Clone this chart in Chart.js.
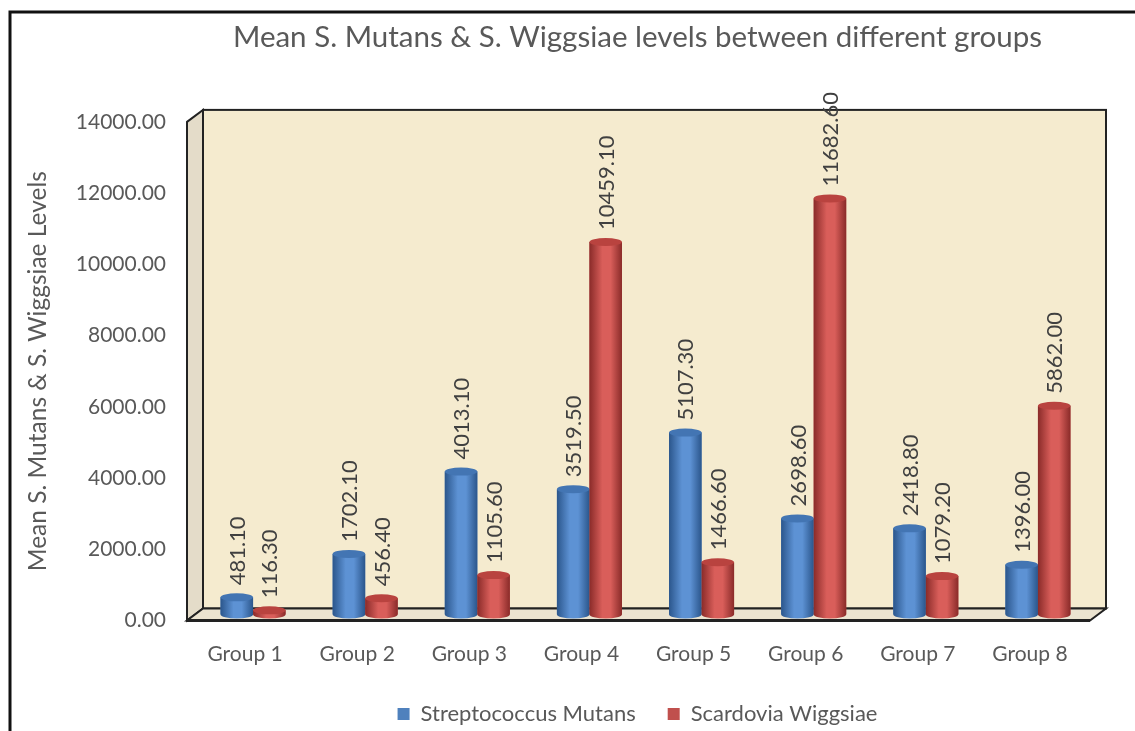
<!DOCTYPE html>
<html lang="en">
<head>
<meta charset="UTF-8">
<title>Mean S. Mutans &amp; S. Wiggsiae levels</title>
<script src="https://cdn.jsdelivr.net/npm/chart.js"></script>
<style>
  html, body { margin: 0; padding: 0; background: #fff; overflow: hidden; }
  .wrap { width: 1275px; height: 731px; }
</style>
</head>
<body>
<div class="wrap">
  <canvas id="levelsChart" width="1275" height="731"></canvas>
</div>
<script>
const groups = ['Group 1', 'Group 2', 'Group 3', 'Group 4', 'Group 5', 'Group 6', 'Group 7', 'Group 8'];
const mutans = [481.10, 1702.10, 4013.10, 3519.50, 5107.30, 2698.60, 2418.80, 1396.00];
const wiggsiae = [116.30, 456.40, 1105.60, 10459.10, 1466.60, 11682.60, 1079.20, 5862.00];
const seriesNames = ['Streptococcus Mutans', 'Scardovia Wiggsiae'];
const yMin = 0, yMax = 14000, yStep = 2000;

const FONT = 'Lato, "Open Sans", sans-serif';
const GREY = '#595959';
const depth = { x: 16, y: -12 };   // 3d offset of the back wall

// shading for the cylinders: dark edge / light middle / top cap
const shades = [
  { base: '#4f81bd', edge: '#2b568c', mid: '#5d92d4', cap: '#4375b3' },
  { base: '#c0504d', edge: '#8a2b29', mid: '#d95e5a', cap: '#b9433f' }
];

const frame3d = {
  id: 'frame3d',
  beforeDraw(chart) {
    const c = chart.ctx, a = chart.chartArea;
    const fl = a.left - 2, fr = a.right + 4, top = a.top, bot = a.bottom;
    const dx = depth.x, dy = depth.y;
    c.save();
    c.fillStyle = '#fff';
    c.fillRect(0, 0, chart.width, chart.height);

    // outer frame of the picture
    c.strokeStyle = '#111';
    c.lineWidth = 3;
    c.beginPath();
    c.moveTo(10, chart.height);
    c.lineTo(10, 12);
    c.lineTo(chart.width, 12);
    c.stroke();

    // back wall
    c.fillStyle = '#f5ebcf';
    c.fillRect(fl + dx, top + dy, fr - fl, bot - top);
    c.lineWidth = 2;
    c.strokeStyle = '#222';
    c.strokeRect(fl + dx, top + dy, fr - fl, bot - top);

    // side wall
    c.fillStyle = '#e4dcc9';
    c.beginPath();
    c.moveTo(fl, top);
    c.lineTo(fl + dx, top + dy);
    c.lineTo(fl + dx, bot + dy);
    c.lineTo(fl, bot);
    c.closePath();
    c.fill();
    c.stroke();

    // floor
    c.fillStyle = '#ebe3d0';
    c.beginPath();
    c.moveTo(fl, bot);
    c.lineTo(fr, bot);
    c.lineTo(fr + dx, bot + dy);
    c.lineTo(fl + dx, bot + dy);
    c.closePath();
    c.fill();
    c.stroke();
    c.lineWidth = 3;
    c.beginPath();
    c.moveTo(fl, bot);
    c.lineTo(fr, bot);
    c.stroke();
    c.restore();
  },
  beforeDatasetsDraw(chart) {
    chart.ctx.save();
    chart.ctx.translate(depth.x / 2, depth.y / 2);
  },
  afterDatasetsDraw(chart) {
    const c = chart.ctx;
    chart.data.datasets.forEach((ds, di) => {
      const sh = shades[di];
      chart.getDatasetMeta(di).data.forEach((bar, i) => {
        const w = bar.width, x0 = bar.x - w / 2, x1 = bar.x + w / 2;
        const yt = bar.y, yb = bar.base, ry = 4;
        const g = c.createLinearGradient(x0, 0, x1, 0);
        g.addColorStop(0, sh.edge);
        g.addColorStop(0.4, sh.mid);
        g.addColorStop(0.65, sh.mid);
        g.addColorStop(1, sh.edge);
        c.fillStyle = g;
        c.beginPath();
        c.moveTo(x0, yt);
        c.lineTo(x0, yb);
        c.ellipse(bar.x, yb, w / 2, ry, 0, Math.PI, 0, true);
        c.lineTo(x1, yt);
        c.closePath();
        c.fill();
        // top cap
        c.fillStyle = sh.cap;
        c.beginPath();
        c.ellipse(bar.x, yt, w / 2, ry, 0, 0, Math.PI * 2);
        c.fill();
        // value label, rotated
        c.save();
        c.translate(bar.x, yt - ry - 8);
        c.rotate(-Math.PI / 2);
        c.font = '22px ' + FONT;
        c.fillStyle = '#404040';
        c.textAlign = 'left';
        c.textBaseline = 'middle';
        c.fillText(ds.data[i].toFixed(2), 0, 1);
        c.restore();
      });
    });
    c.restore();
  }
};

const ctx = document.getElementById('levelsChart').getContext('2d');
const chart = new Chart(ctx, {
  type: 'bar',
  data: {
    labels: groups,
    datasets: [
      { label: seriesNames[0], data: mutans, backgroundColor: shades[0].base, borderWidth: 0 },
      { label: seriesNames[1], data: wiggsiae, backgroundColor: shades[1].base, borderWidth: 0 }
    ]
  },
  options: {
    responsive: false,
    animation: false,
    categoryPercentage: 0.58,
    barPercentage: 1.0,
    layout: { padding: { left: 0, right: 0, top: 0, bottom: -4 } },
    plugins: {
      title: {
        display: true,
        text: 'Mean S. Mutans & S. Wiggsiae levels between different groups',
        color: GREY,
        font: { family: FONT, size: 29.5, weight: 'normal' },
        padding: { top: 20, bottom: 66.5 }
      },
      legend: {
        position: 'bottom',
        labels: {
          color: GREY,
          font: { family: FONT, size: 22 },
          boxWidth: 12,
          boxHeight: 12,
          padding: 32
        }
      },
      tooltip: { enabled: false }
    },
    scales: {
      x: {
        grid: { display: false, drawTicks: false },
        border: { display: false },
        ticks: { color: GREY, font: { family: FONT, size: 21 }, padding: 21 },
        afterFit(s) { s.height = 50.5; }
      },
      y: {
        min: yMin,
        max: yMax,
        grid: { display: false, drawTicks: false },
        border: { display: false },
        ticks: {
          stepSize: yStep,
          color: GREY,
          font: { family: FONT, size: 21 },
          padding: 23,
          callback: v => v.toFixed(2)
        },
        title: {
          display: true,
          text: 'Mean S. Mutans & S. Wiggsiae Levels',
          color: GREY,
          font: { family: FONT, size: 24.5 },
          padding: { top: 23, bottom: 0 }
        },
        afterFit(s) { s.width = 189; }
      },
      yRight: {
        position: 'right',
        display: true,
        grid: { display: false, drawTicks: false },
        border: { display: false },
        ticks: { display: false },
        afterFit(s) { s.width = 1275 - 1086; }
      }
    }
  },
  plugins: [frame3d]
});
</script>
</body>
</html>
